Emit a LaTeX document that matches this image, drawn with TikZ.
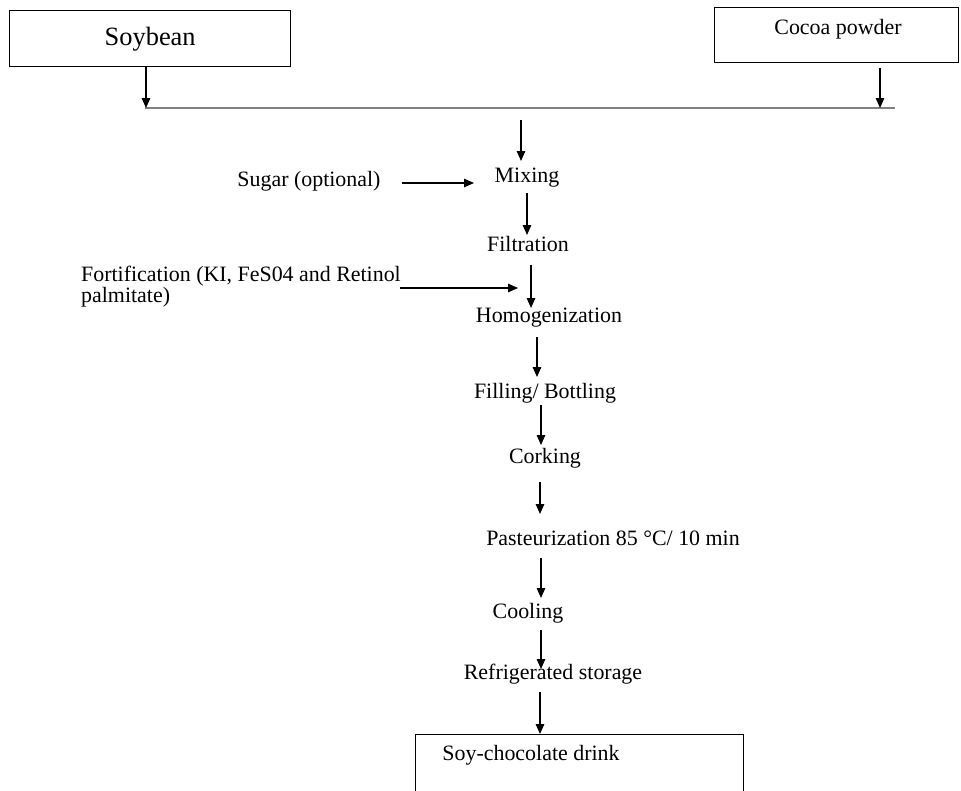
\documentclass[tikz,border=0pt]{standalone}
\usepackage{fontspec}
\setmainfont{Liberation Serif}
\usetikzlibrary{arrows.meta}
\begin{document}
\begin{tikzpicture}[x=1bp,y=-1bp,
  lbl/.style={inner sep=0pt, font=\fontsize{22}{21}\selectfont},
  arr/.style={line width=1.3bp, -{Triangle[length=10bp,width=8.5bp]}},
  boxline/.style={draw, line width=1.4bp, inner sep=0pt, anchor=north west},
  bar/.style={line width=2.6bp, draw=black!50}]
\useasboundingbox (0,0) rectangle (961,791);
% input boxes
\node[boxline, minimum width=281bp, minimum height=56bp,
      font=\fontsize{26.5}{30}\selectfont] (soy) at (9,10) {Soybean};
\node[boxline, minimum width=244bp, minimum height=55bp] (cocoa) at (714,7) {};
\node[lbl] (cocoatxt) at (838,29) {Cocoa powder};
% joining bar
\coordinate (hl1) at (145,108);
\coordinate (hl2) at (895,108);
\draw[bar] (hl1) -- (hl2);
% process steps
\node[lbl] (mix)   at (527,178) {Mixing};
\node[lbl] (sugar) at (309,181) {Sugar (optional)};
\node[lbl] (filt)  at (528,244) {Filtration};
\node[lbl, align=left, anchor=north west] (fort) at (81,266)
  {Fortification (KI, FeS04 and Retinol\\palmitate)};
\node[lbl] (homog) at (549,318) {Homogenization};
\node[lbl] (fill)  at (545,393) {Filling/ Bottling};
\node[lbl] (cork)  at (545,458) {Corking};
\node[lbl] (past)  at (613,538) {Pasteurization 85 \textdegree C/ 10 min};
\node[lbl] (cool)  at (528,613) {Cooling};
\node[lbl] (refr)  at (553,674) {Refrigerated storage};
\node[boxline, minimum width=328bp, minimum height=90bp] (drink) at (415,734) {};
\node[lbl] (drinktxt) at (531,755) {Soy-chocolate drink};
% connector ends
\coordinate (soyA) at (146,66);
\coordinate (cocA) at (880,68);
\coordinate (mixA) at (521,120);
\coordinate (mixB) at (521,161);
\coordinate (sugA) at (402,183);
\coordinate (sugB) at (474,183);
\coordinate (filA) at (527,193);
\coordinate (filB) at (527,235);
\coordinate (forA) at (400,288);
\coordinate (forB) at (518,288);
\coordinate (homA) at (531,265);
\coordinate (homB) at (531,308);
\coordinate (filC) at (537,337);
\coordinate (filD) at (537,377);
\coordinate (corA) at (541,405);
\coordinate (corB) at (541,445);
\coordinate (pasA) at (540,482);
\coordinate (pasB) at (540,514);
\coordinate (cooA) at (541,558);
\coordinate (cooB) at (541,598);
\coordinate (refA) at (541,630);
\coordinate (refB) at (541,669);
\coordinate (drA)  at (540,692);
\coordinate (drB)  at (540,734);
% connectors
\draw[arr] (soyA) -- (soyA |- hl1);
\draw[arr] (cocA) -- (cocA |- hl2);
\draw[arr] (mixA) -- (mixB);
\draw[arr] (sugA) -- (sugB);
\draw[arr] (filA) -- (filB);
\draw[arr] (forA) -- (forB);
\draw[arr] (homA) -- (homB);
\draw[arr] (filC) -- (filD);
\draw[arr] (corA) -- (corB);
\draw[arr] (pasA) -- (pasB);
\draw[arr] (cooA) -- (cooB);
\draw[arr] (refA) -- (refB);
\draw[arr] (drA) -- (drB);
\end{tikzpicture}
\end{document}
